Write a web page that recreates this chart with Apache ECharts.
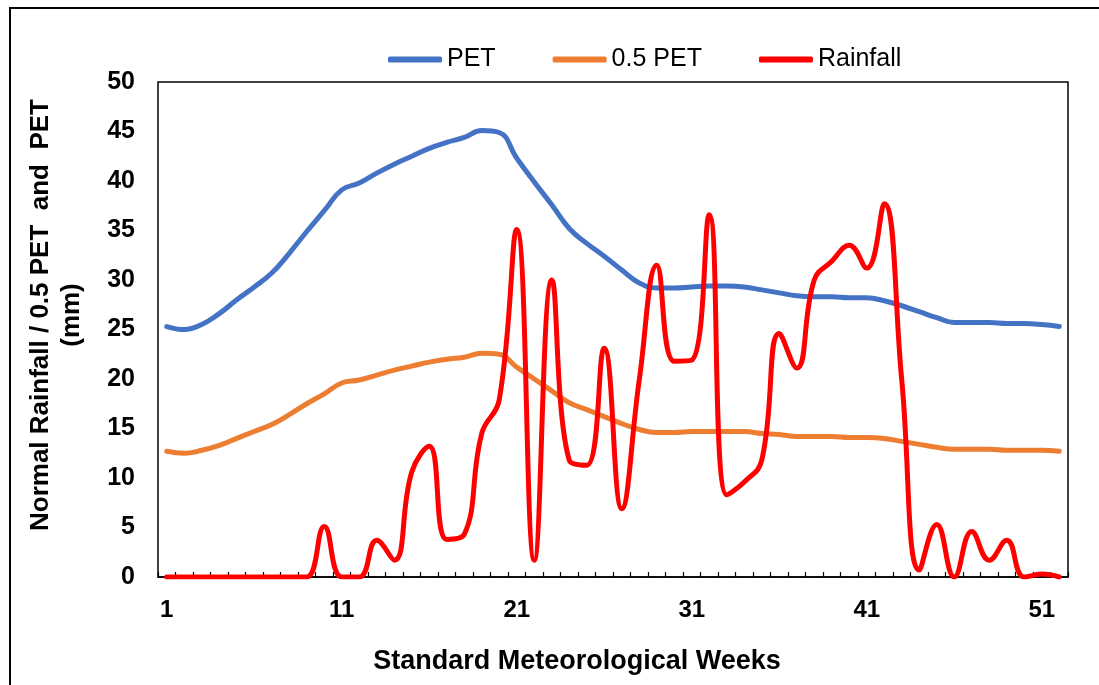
<!DOCTYPE html>
<html>
<head>
<meta charset="utf-8">
<script src="https://cdn.jsdelivr.net/npm/echarts@6/dist/echarts.min.js"></script>
<style>
html,body{margin:0;padding:0;background:#fff;}
#main{width:1099px;height:685px;}
</style>
</head>
<body>
<div id="main"></div>
<script>
const weeks = [];
for (let i = 1; i <= 52; i++) weeks.push(String(i));

const pet = [25.3, 25.0, 25.5, 26.6, 28.0, 29.3, 30.7, 32.7, 34.9, 37.0,
  39.1, 39.8, 40.8, 41.7, 42.5, 43.3, 43.9, 44.4, 45.1, 44.9,
  42.3, 39.9, 37.6, 35.2, 33.7, 32.4, 31.0, 29.7, 29.2, 29.2,
  29.3, 29.4, 29.4, 29.3, 29.0, 28.7, 28.4, 28.3, 28.3, 28.2,
  28.2, 27.9, 27.4, 26.8, 26.2, 25.7, 25.7, 25.7, 25.6, 25.6,
  25.5, 25.3];

const halfPet = [12.7, 12.5, 12.8, 13.3, 14.0, 14.7, 15.4, 16.4, 17.5, 18.5,
  19.6, 19.9, 20.4, 20.9, 21.3, 21.7, 22.0, 22.2, 22.6, 22.5,
  21.2, 20.0, 18.8, 17.6, 16.9, 16.2, 15.5, 14.9, 14.6, 14.6,
  14.7, 14.7, 14.7, 14.7, 14.5, 14.4, 14.2, 14.2, 14.2, 14.1,
  14.1, 14.0, 13.7, 13.4, 13.1, 12.9, 12.9, 12.9, 12.8, 12.8,
  12.8, 12.7];

const rainfall = [0, 0, 0, 0, 0, 0, 0, 0, 0, 5.1,
  0, 0, 3.7, 1.7, 10.6, 13.2, 3.8, 4.3, 14.5, 17.9,
  35.1, 1.7, 30.0, 11.8, 11.3, 23.1, 6.9, 19.9, 31.5, 21.8,
  21.9, 36.6, 8.3, 9.6, 11.8, 24.6, 21.1, 30.0, 31.9, 33.5,
  31.2, 37.7, 19.9, 0.7, 5.3, 0, 4.6, 1.7, 3.7, 0,
  0.3, 0];

const yTicks = [0, 5, 10, 15, 20, 25, 30, 35, 40, 45, 50];

const FONT = '"Liberation Sans", Arial, sans-serif';

const chart = echarts.init(document.getElementById('main'));

function lineSeries(name, data, color) {
  return {
    name: name,
    type: 'line',
    data: data,
    smooth: 0.45,
    symbol: 'none',
    showSymbol: false,
    lineStyle: { color: color, width: 5, cap: 'round', join: 'round' },
    itemStyle: { color: color }
  };
}

chart.setOption({
  animation: false,
  backgroundColor: '#fff',
  grid: {
    left: 158, right: 31, top: 82, bottom: 108,
    show: true, borderColor: '#000', borderWidth: 1.5, backgroundColor: 'transparent'
  },
  legend: {
    left: 383, top: 42,
    icon: 'roundRect',
    itemWidth: 54, itemHeight: 6, itemGap: 57,
    textStyle: { fontFamily: FONT, fontSize: 25, color: '#000' },
    data: ['PET', '0.5 PET', 'Rainfall']
  },
  xAxis: {
    type: 'category',
    data: weeks,
    boundaryGap: true,
    axisLine: { lineStyle: { color: '#000', width: 1.5 } },
    axisTick: { show: true, inside: true, length: 5, interval: 0, lineStyle: { color: '#000', width: 1.2 } },
    axisLabel: { interval: 9, margin: 21, fontFamily: FONT, fontSize: 24, fontWeight: 'bold', color: '#000' },
    splitLine: { show: false }
  },
  yAxis: {
    type: 'value',
    min: yTicks[0], max: yTicks[yTicks.length - 1], interval: 5,
    axisLine: { show: false },
    axisTick: { show: false },
    axisLabel: { margin: 23, fontFamily: FONT, fontSize: 25, fontWeight: 'bold', color: '#000' },
    splitLine: { show: false }
  },
  graphic: [
    {
      type: 'rect', silent: true, z: -1,
      shape: { x: 10, y: 8, width: 1300, height: 900 },
      style: { fill: 'none', stroke: '#000', lineWidth: 2 }
    },
    {
      type: 'text', silent: true,
      x: 577, y: 662,
      style: {
        text: 'Standard Meteorological Weeks',
        fontFamily: FONT, fontSize: 27, fontWeight: 'bold', fill: '#000',
        align: 'center', verticalAlign: 'middle'
      }
    },
    {
      type: 'text', silent: true,
      x: 56, y: 315, rotation: Math.PI / 2,
      style: {
        text: 'Normal Rainfall / 0.5 PET  and  PET\n(mm)',
        fontFamily: FONT, fontSize: 26, fontWeight: 'bold', fill: '#000',
        align: 'center', verticalAlign: 'middle', lineHeight: 31
      }
    }
  ],
  series: [
    lineSeries('PET', pet, '#4472C4'),
    lineSeries('0.5 PET', halfPet, '#ED7D31'),
    lineSeries('Rainfall', rainfall, '#FF0000')
  ]
});
</script>
</body>
</html>
